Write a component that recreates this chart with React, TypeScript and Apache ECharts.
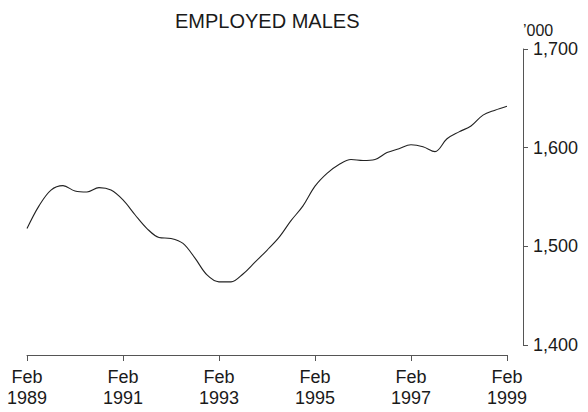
import React, { useEffect, useRef } from "react";
import * as echarts from "echarts";

// Months since Feb 1989 (quarterly readings)
const months: number[] = [
  0, 3, 6, 9, 12, 15, 18, 21, 24, 27, 30, 33, 36, 39, 42, 45, 48, 51, 54, 57,
  60, 63, 66, 69, 72, 75, 78, 81, 84, 87, 90, 93, 96, 99, 102, 105, 108, 111,
  114, 117, 120,
];
// Employed males, '000
const employed: number[] = [
  1518, 1541, 1557, 1561.5, 1556, 1555, 1559.5, 1557, 1547, 1532, 1518, 1509,
  1508, 1503, 1488, 1471, 1464, 1464, 1472, 1484, 1496, 1509, 1526, 1541, 1561,
  1574, 1583, 1588, 1587, 1588, 1595, 1599, 1603, 1601, 1596, 1609, 1616, 1622,
  1633, 1638, 1642,
];
const xTickLabels: string[] = [
  "Feb\n1989",
  "Feb\n1991",
  "Feb\n1993",
  "Feb\n1995",
  "Feb\n1997",
  "Feb\n1999",
];
const yTicks: number[] = [1400, 1500, 1600, 1700];

const FONT = "'Liberation Sans', Arial, sans-serif";
const AXIS_COLOR = "#555";
const TEXT_COLOR = "#1a1a1a";

export default function App() {
  const ref = useRef<HTMLDivElement>(null);
  useEffect(() => {
    if (!ref.current) return;
    const chart = echarts.init(ref.current, undefined, { renderer: "svg" });
    const data = months.map((m, i) => [m, employed[i]]);
    chart.setOption({
      animation: false,
      backgroundColor: "#ffffff",
      textStyle: { fontFamily: FONT },
      title: {
        text: "EMPLOYED MALES",
        left: 170,
        top: 6,
        textStyle: {
          fontFamily: FONT,
          fontSize: 20,
          fontWeight: "normal",
          color: TEXT_COLOR,
        },
      },
      graphic: [
        {
          type: "text",
          left: 523,
          top: 22,
          style: {
            text: "\u2019000",
            fontFamily: FONT,
            fontSize: 16,
            fill: TEXT_COLOR,
          },
        },
      ],
      grid: { left: 27, right: 81, top: 49, bottom: 67, containLabel: false },
      xAxis: {
        type: "value",
        min: 0,
        max: 120,
        interval: 24,
        offset: 10,
        splitLine: { show: false },
        axisLine: {
          show: true,
          onZero: false,
          lineStyle: { color: AXIS_COLOR, width: 1 },
        },
        axisTick: {
          show: true,
          length: 6,
          lineStyle: { color: AXIS_COLOR, width: 1 },
        },
        axisLabel: {
          margin: 11,
          fontFamily: FONT,
          fontSize: 18,
          lineHeight: 21,
          color: TEXT_COLOR,
          formatter: (v: number) => xTickLabels[Math.round(v / 24)] ?? "",
        },
      },
      yAxis: {
        type: "value",
        position: "right",
        min: yTicks[0],
        max: yTicks[yTicks.length - 1],
        interval: 100,
        offset: 16,
        splitLine: { show: false },
        axisLine: {
          show: true,
          onZero: false,
          lineStyle: { color: AXIS_COLOR, width: 1 },
        },
        axisTick: {
          show: true,
          length: 5,
          lineStyle: { color: AXIS_COLOR, width: 1 },
        },
        axisLabel: {
          margin: 10,
          fontFamily: FONT,
          fontSize: 18,
          color: TEXT_COLOR,
          formatter: (v: number) => v.toLocaleString("en-US"),
        },
      },
      series: [
        {
          type: "line",
          data,
          smooth: 0.35,
          showSymbol: false,
          symbol: "none",
          lineStyle: { color: "#222", width: 1.1 },
        },
      ],
    });
    return () => chart.dispose();
  }, []);
  return (
    <div
      ref={ref}
      style={{ position: "fixed", left: 0, top: 0, width: 588, height: 412 }}
    />
  );
}
